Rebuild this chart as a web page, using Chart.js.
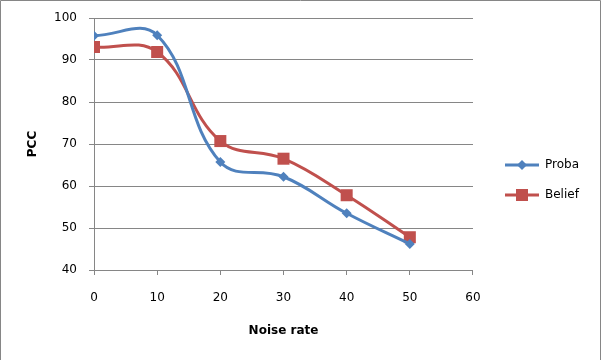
<!DOCTYPE html>
<html>
<head>
<meta charset="utf-8">
<script src="https://cdn.jsdelivr.net/npm/chart.js@4"></script>
<style>
  html, body { margin: 0; padding: 0; background: #fff; }
  #wrap { width: 602px; height: 360px; }
</style>
</head>
<body>
<div id="wrap"><canvas id="pccChart" width="602" height="360"></canvas></div>
<script>
// noise rate (x) and PCC values
const noiseRates = [0, 10, 20, 30, 40, 50];
const probaValues = [95.8, 95.9, 65.7, 62.2, 53.5, 46.2];
const beliefValues = [93.1, 91.9, 70.7, 66.5, 57.8, 47.8];
const xTicks = [0, 10, 20, 30, 40, 50, 60];
const yTicks = [40, 50, 60, 70, 80, 90, 100];

const blue = '#4F81BD';
const red = '#C0504D';
const gridGray = '#868686';

function toPoints(xs, ys) {
    return xs.map((x, i) => ({ x: x, y: ys[i] }));
}

// little line + marker pictures for the legend
function legendIcon(color, shape) {
    const c = document.createElement('canvas');
    c.width = 34;
    c.height = 14;
    const g = c.getContext('2d');
    g.strokeStyle = color;
    g.lineWidth = 3;
    g.beginPath();
    g.moveTo(0, 7);
    g.lineTo(34, 7);
    g.stroke();
    g.fillStyle = color;
    if (shape === 'diamond') {
        g.beginPath();
        g.moveTo(17, 2);
        g.lineTo(22, 7);
        g.lineTo(17, 12);
        g.lineTo(12, 7);
        g.closePath();
        g.fill();
    } else {
        g.fillRect(11, 1, 12, 12);
    }
    return c;
}

// grey frame round the picture (open at the bottom)
const framePlugin = {
    id: 'frame',
    afterDraw(chart) {
        const ctx = chart.ctx;
        ctx.save();
        ctx.strokeStyle = gridGray;
        ctx.lineWidth = 1;
        ctx.beginPath();
        ctx.moveTo(0.5, 360);
        ctx.lineTo(0.5, 0.5);
        ctx.lineTo(600.5, 0.5);
        ctx.lineTo(600.5, 360);
        ctx.stroke();
        ctx.restore();
    }
};

// nudge the legend a bit right and up, like the original
const legendShift = {
    id: 'legendShift',
    afterLayout(chart) {
        const lg = chart.legend;
        if (!lg) return;
        lg.left += 14;
        lg.right += 14;
        lg.top -= 9;
        lg.bottom -= 9;
    }
};

Chart.defaults.font.family = '"DejaVu Sans", sans-serif';
Chart.defaults.font.size = 12;
Chart.defaults.color = '#000';

const ctx = document.getElementById('pccChart').getContext('2d');
const pccChart = new Chart(ctx, {
    type: 'line',
    data: {
        datasets: [{
            label: 'Proba',
            data: toPoints(noiseRates, probaValues),
            borderColor: blue,
            backgroundColor: blue,
            borderWidth: 3,
            pointStyle: 'rectRot',
            pointRadius: 5,
            pointBorderWidth: 0,
            tension: 0.4,
            fill: false
        }, {
            label: 'Belief',
            data: toPoints(noiseRates, beliefValues),
            borderColor: red,
            backgroundColor: red,
            borderWidth: 3,
            pointStyle: 'rect',
            pointRadius: 8.5,
            pointBorderWidth: 0,
            tension: 0.4,
            fill: false
        }]
    },
    options: {
        responsive: false,
        animation: false,
        layout: { padding: { left: 0, top: 18, right: 27, bottom: 0 } },
        plugins: {
            tooltip: { enabled: false },
            legend: {
                position: 'right',
                labels: {
                    usePointStyle: true,
                    pointStyleWidth: 34,
                    padding: 18,
                    font: { size: 12 },
                    generateLabels(chart) {
                        return [
                            { text: 'Proba', pointStyle: legendIcon(blue, 'diamond'), datasetIndex: 0, lineWidth: 0, fontColor: '#000' },
                            { text: 'Belief', pointStyle: legendIcon(red, 'square'), datasetIndex: 1, lineWidth: 0, fontColor: '#000' }
                        ];
                    }
                }
            }
        },
        scales: {
            x: {
                type: 'linear',
                min: 0,
                max: 60,
                afterBuildTicks(scale) {
                    scale.ticks = xTicks.map(v => ({ value: v }));
                },
                afterFit(scale) { scale.height = 90; },
                grid: { drawOnChartArea: false, drawTicks: true, tickLength: 5, color: gridGray },
                border: { color: gridGray },
                ticks: { padding: 16, font: { size: 12 } },
                title: { display: true, text: 'Noise rate', font: { size: 12, weight: 'bold' }, padding: { top: 0, bottom: 22 } }
            },
            y: {
                min: 40,
                max: 100,
                afterBuildTicks(scale) {
                    scale.ticks = yTicks.map(v => ({ value: v }));
                },
                afterFit(scale) {
                    scale.width = 94;
                    scale.paddingTop = 0;
                    scale.paddingBottom = 0;
                },
                grid: { color: gridGray, tickLength: 5 },
                border: { color: gridGray },
                ticks: { padding: 12, font: { size: 12 } },
                title: { display: true, text: 'PCC', font: { size: 12, weight: 'bold' }, padding: { top: 26, bottom: 0 } }
            }
        }
    },
    plugins: [framePlugin, legendShift]
});
</script>
</body>
</html>
